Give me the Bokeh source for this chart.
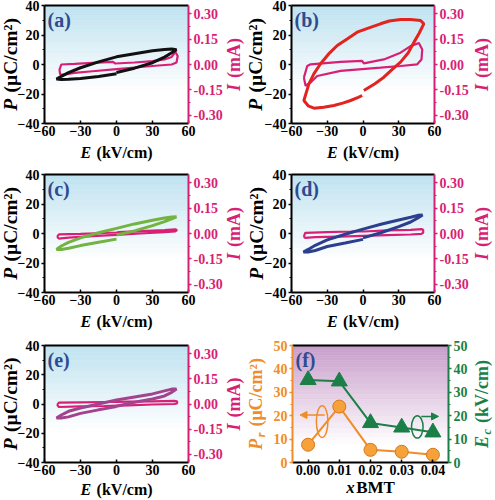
import numpy as np
from bokeh.plotting import figure
from bokeh.models import Range1d, LinearAxis, FixedTicker, NumeralTickFormatter, Label, Arrow, NormalHead
from bokeh.layouts import gridplot
from bokeh.embed import file_html
from bokeh.resources import INLINE

# ---------------- data ----------------
E_ticks = [-60, -30, 0, 30, 60]
P_ticks = [-40, -20, 0, 20, 40]
I_ticks = [-0.30, -0.15, 0.0, 0.15, 0.30]

# P-E loops (E in kV/cm, P in uC/cm2), traced from the start at E=0
E_a = [0, 15, 30, 40, 46, 50, 46, 40, 30, 15, 0, -15, -30, -40, -46, -50, -46, -40, -30, -15, 0]
P_a = [-5.4, -2.5, 1.2, 5.0, 8.0, 10.0, 10.5, 10.2, 9.3, 7.3, 5.2, 1.8, -2.2, -5.5, -8.0, -9.8, -10.2, -10.0, -9.5, -8.1, -6.3]

E_b = [0.7, 10, 17.5, 25, 31.5, 38, 42.7, 47, 51, 48.3, 40, 31.5, 22, 14.7, 5, -4.9, -13, -21.6, -29, -35.6, -41, -45.4, -49.6,
       -46, -41.2, -33, -24.4, -17, -10.4, -4, -0.7]
P_b = [-17.6, -13, -8.6, -3, 1.6, 8, 15, 21, 27.6, 29.8, 30.5, 30.5, 29.5, 27.6, 24.8, 21.9, 17.5, 12.9, 7, 0.5, -6, -13.1, -24.4,
       -28, -29.6, -29, -27.8, -26.2, -24.4, -22.3, -21]

E_c = [0, 15, 30, 40, 46, 50, 46, 40, 30, 15, 0, -15, -30, -40, -46, -50, -46, -40, -30, -15, 0]
P_c = [-1.0, 1.8, 5.3, 8.0, 10.0, 11.3, 11.2, 10.5, 9.0, 6.5, 3.5, 0.5, -3.0, -6.0, -8.5, -10.8, -10.8, -10.0, -8.2, -6.0, -3.8]

E_d = [0, 15, 30, 40, 46, 50, 46, 40, 30, 15, 0, -15, -30, -40, -46, -50, -46, -40, -30, -15, 0]
P_d = [-3.0, 0.5, 4.7, 7.8, 10.5, 12.6, 12.3, 11.0, 9.2, 6.3, 3.0, -0.5, -4.3, -8.0, -10.8, -12.6, -12.6, -11.5, -8.8, -6.5, -4.0]

E_e = [0, 15, 30, 40, 46, 50, 46, 40, 30, 15, 0, -15, -30, -40, -46, -50, -46, -40, -30, -15, 0]
P_e = [-1.5, 1.2, 3.4, 5.5, 8.0, 10.3, 10.2, 9.0, 6.9, 4.8, 2.7, 0.0, -2.7, -5.0, -7.5, -9.6, -9.6, -8.8, -6.4, -4.0, -1.8]

# I-E loops (E in kV/cm, I in mA)
EI_a = [-47, -47.5, -46, -35, -20, -3, -1, 15, 30, 40, 46, 49, 51, 50, 46, 35, 20, 0, -20, -35, -44, -47]
I_a = [-0.06, -0.03, 0.0, 0.004, 0.01, 0.016, 0.006, 0.012, 0.02, 0.03, 0.045, 0.075, 0.05, 0.012, 0.0, -0.006, -0.015, -0.027, -0.04, -0.05, -0.06, -0.06]

EI_b = [-49.6, -48.2, -44, -38.4, -18.8, 14.7, 31.5, 45.5, 49.1, 49.7, 46.9, 39.9, 31.5, 17.5, 0.7, -0.7, -18.8, -44, -46.8, -49.6]
I_b = [-0.078, -0.126, -0.107, -0.068, -0.038, -0.019, -0.009, 0.001, 0.03, 0.089, 0.128, 0.109, 0.07, 0.03, 0.007, 0.021, 0.015, 0.001, -0.009, -0.078]

EI_c = [-49.5, -48, -30, -10, 0, 2, 20, 40, 49, 50.5, 49, 40, 20, 0, -20, -40, -48, -49.5]
I_c = [-0.02, -0.005, -0.002, 0.003, 0.006, 0.008, 0.014, 0.02, 0.025, 0.02, 0.013, 0.008, 0.0, -0.008, -0.016, -0.024, -0.03, -0.02]

EI_d = [-49.7, -48.5, -30, -10, -1, 1, 20, 40, 49, 50.5, 50.5, 49, 40, 20, 0, -20, -40, -48.5, -49.7]
I_d = [-0.02, 0.004, 0.008, 0.012, 0.014, 0.012, 0.018, 0.022, 0.026, 0.022, 0.004, -0.002, -0.006, -0.01, -0.014, -0.018, -0.022, -0.026, -0.02]

EI_e = [-49.5, -48, -30, -10, 0, 10, 30, 48, 50.5, 50.5, 48, 30, 10, 0, -10, -30, -48, -49.5]
I_e = [-0.005, 0.008, 0.01, 0.012, 0.013, 0.014, 0.016, 0.019, 0.016, 0.003, 0.0, -0.003, -0.008, -0.01, -0.012, -0.014, -0.018, -0.005]

# panel (f)
xBMT = [0.00, 0.01, 0.02, 0.03, 0.04]
Pr = [7.6, 23.9, 5.4, 4.6, 3.3]
Ec = [35.3, 34.7, 16.9, 15.0, 12.9]
x_ticks_f = [0.00, 0.01, 0.02, 0.03, 0.04]
y_ticks_f = [0, 10, 20, 30, 40, 50]

# ---------------- style ----------------
FONT = "Liberation Serif"
PINK = "#d81f76"
LETTER = "#2e4b8f"
ORANGE = "#ef8d2a"
ORANGE_FILL = "#f5a23a"
GREEN = "#1b7f47"
BLUE_BG = (190, 226, 240)
MAUVE_BG = (200, 156, 202)

W_B = {' ': 250, '(': 333, ')': 333, '/': 278, 'P': 611, 'C': 722, 'E': 667, 'I': 389, 'k': 556, 'V': 722,
       'c': 444, 'm': 833, 'A': 722, 'B': 667, 'M': 944, 'T': 667, 'r': 444, 'x': 500, 'μ': 556, '²': 300}
W_BI = {'P': 611, 'E': 667, 'I': 389, 'r': 389, 'c': 444, 'x': 500}


def text_width(s, italic, size):
    tab = W_BI if italic else W_B
    return sum(tab.get(ch, 500) for ch in s) * size / 1000.0


def rich_label(p, x, y, pieces, vertical, x_off, y_off, color):
    gap = lambda it: 1.5 if it else 0.0
    total = sum(text_width(t, it, sz) + gap(it) for t, it, sz, sh in pieces)
    pos = -total / 2.0
    for t, it, sz, sh in pieces:
        lead = len(t) - len(t.lstrip(" "))
        pos += lead * W_B[' '] * sz / 1000.0
        t = t.lstrip(" ")
        style = "bold italic" if it else "bold"
        if vertical:
            xo, yo, ang = x_off - sh, y_off + pos, np.pi / 2
        else:
            xo, yo, ang = x_off + pos, y_off + sh, 0.0
        p.add_layout(Label(x=x, y=y, x_offset=xo, y_offset=yo, angle=ang, text=t,
                           text_font=FONT, text_font_style=style, text_font_size=f"{sz}px",
                           text_color=color, text_align="left", text_baseline="middle"))
        pos += text_width(t, it, sz) + gap(it)


def gradient(p, x0, x1, y0, y1, rgb, frac, n=48):
    edges = np.linspace(y1, y0, n + 1)
    cols = []
    for i in range(n):
        t = (i + 0.5) / n
        s = min(1.0, t / frac)
        c = tuple(int(round(v * (1 - s) + 255 * s)) for v in rgb)
        cols.append("#%02x%02x%02x" % c)
    p.quad(left=x0, right=x1, top=edges[:-1], bottom=edges[1:], fill_color=cols,
           line_color=cols, line_width=0.6, level="underlay")


def style_axis(ax, color, ticks, minor, loc, bounds, fmt=None, inward=False):
    ax.ticker = FixedTicker(ticks=ticks, minor_ticks=minor)
    ax.fixed_location = loc
    ax.bounds = bounds
    ax.axis_line_color = color
    ax.axis_line_width = 2
    ax.major_tick_line_color = color
    ax.major_tick_line_width = 1.5
    ax.major_tick_out = 0 if inward else 3
    ax.major_tick_in = 3 if inward else 0
    ax.minor_tick_line_color = color
    ax.minor_tick_out = 0 if inward else 2
    ax.minor_tick_in = 2 if inward else 0
    ax.major_label_text_font = FONT
    ax.major_label_text_font_style = "bold"
    ax.major_label_text_font_size = "14px"
    ax.major_label_text_color = color
    ax.major_label_standoff = 2
    ax.axis_label = None
    if fmt:
        ax.formatter = NumeralTickFormatter(format=fmt)


def ext_range(lo, hi, n_lo, n_hi, span_px):
    s = (hi - lo) / span_px
    return Range1d(lo - n_lo * s, hi + n_hi * s)


def base_fig(w, h, bl, br, bt, bb, xlim, ylim):
    # the frame fills the whole canvas; the plotting box is the data limits, borders are range margin
    xr = ext_range(xlim[0], xlim[1], bl, br, w - bl - br)
    yr = ext_range(ylim[0], ylim[1], bb, bt, h - bt - bb)
    p = figure(width=w, height=h, x_range=xr, y_range=yr, output_backend="svg", toolbar_location=None,
               min_border=0)
    p.xgrid.visible = False
    p.ygrid.visible = False
    p.outline_line_color = None
    p.background_fill_color = "white"
    p.border_fill_color = "white"
    return p


def loop_panel(letter, E_pe, P_pe, col_pe, E_i, I_i, w, row, bl, br, lab_l, lab_r, lab_b):
    h, bt, bb = row
    p = base_fig(w, h, bl, br, bt, bb, (-60, 60), (-40, 40))
    p.extra_y_ranges = {"I": ext_range(-0.35, 0.35, bb, bt, h - bt - bb)}
    gradient(p, -60, 60, -40, 40, BLUE_BG, 0.72)
    p.segment(x0=[-60], y0=[40], x1=[60], y1=[40], line_color="black", line_width=2)
    p.line(E_i, I_i, line_color=PINK, line_width=2.2, y_range_name="I")
    p.line(E_pe, P_pe, line_color=col_pe, line_width=3)
    style_axis(p.xaxis[0], "black", E_ticks, [], -40, (-60, 60), inward=True)
    style_axis(p.yaxis[0], "black", P_ticks, [-30, -10, 10, 30], -60, (-40, 40))
    ax_r = LinearAxis(y_range_name="I")
    style_axis(ax_r, PINK, I_ticks, [-0.225, -0.075, 0.075, 0.225], 60, (-0.35, 0.35), "0.00")
    p.add_layout(ax_r, "right")
    p.add_layout(Label(x=-60, y=40, x_offset=3, y_offset=-3, text=letter, text_font=FONT,
                       text_font_style="bold", text_font_size="20px", text_color=LETTER,
                       text_align="left", text_baseline="top"))
    rich_label(p, -60, 0, [("P", True, 19.5, 0), (" (μC/cm²)", False, 19.5, 0)], True, lab_l, 0, "black")
    rich_label(p, 60, 0, [("I", True, 18, 0), (" (mA)", False, 18, 0)], True, lab_r, 0, PINK)
    rich_label(p, 0, -40, [("E", True, 16, 0), (" (kV/cm)", False, 16, 0)], False, 0, -lab_b, "black")
    return p


# rows: (height, border_top, border_bottom)
R1 = (166, 5, 43)
R2 = (171, 8, 45)
R3 = (162, 8, 37)
WL, WR = 245, 250

pa = loop_panel("(a)", E_a, P_a, "#111111", EI_a, I_a, WL, R1, 44, 57, -34, 45, 29)
pb = loop_panel("(b)", E_b, P_b, "#e2231f", EI_b, I_b, WR, R1, 46, 61, -36, 47, 29)
pc = loop_panel("(c)", E_c, P_c, "#72b341", EI_c, I_c, WL, R2, 44, 57, -34, 45, 29)
pd = loop_panel("(d)", E_d, P_d, "#2b3f8e", EI_d, I_d, WR, R2, 46, 61, -35, 47, 29)
pe = loop_panel("(e)", E_e, P_e, "#a2438e", EI_e, I_e, WL, R3, 44, 57, -34, 45, 27)

# panel (f)
FX = (-0.005, 0.045)
FY = (0, 50)
h3, bt3, bb3 = R3
pf = base_fig(WR, h3, 47, 47, bt3, bb3, FX, FY)
pf.extra_y_ranges = {"Ec": ext_range(FY[0], FY[1], bb3, bt3, h3 - bt3 - bb3)}
gradient(pf, FX[0], FX[1], FY[0], FY[1], MAUVE_BG, 0.85)
pf.segment(x0=[FX[0]], y0=[FY[1]], x1=[FX[1]], y1=[FY[1]], line_color="black", line_width=2)
pf.line(xBMT, Pr, line_color=ORANGE, line_width=2)
pf.scatter(xBMT, Pr, size=13, fill_color=ORANGE_FILL, line_color="#d9771a", line_width=1)
pf.line(xBMT, Ec, line_color=GREEN, line_width=2, y_range_name="Ec")
pf.scatter(xBMT, Ec, marker="triangle", size=16, fill_color=GREEN, line_color=GREEN, y_range_name="Ec")
pf.ellipse(x=[0.0045], y=[17.5], width=0.0037, height=13.6, fill_color=None, line_color=ORANGE, line_width=1.5)
pf.add_layout(Arrow(end=NormalHead(size=7, fill_color=ORANGE, line_color=ORANGE), x_start=0.0053, y_start=20.3,
                    x_end=-0.0026, y_end=20.3, line_color=ORANGE, line_width=1.5))
pf.ellipse(x=[0.035], y=[15.2], width=0.0037, height=9.5, fill_color=None, line_color=GREEN, line_width=1.5)
pf.add_layout(Arrow(end=NormalHead(size=7, fill_color=GREEN, line_color=GREEN), x_start=0.0363, y_start=19.7,
                    x_end=0.0418, y_end=19.7, line_color=GREEN, line_width=1.5))
style_axis(pf.xaxis[0], "black", x_ticks_f, [], FY[0], FX, "0.00", inward=True)
style_axis(pf.yaxis[0], ORANGE, y_ticks_f, [5, 15, 25, 35, 45], FX[0], FY)
ax_rf = LinearAxis(y_range_name="Ec")
style_axis(ax_rf, GREEN, y_ticks_f, [5, 15, 25, 35, 45], FX[1], FY)
pf.add_layout(ax_rf, "right")
pf.add_layout(Label(x=FX[0], y=FY[1], x_offset=3, y_offset=-3, text="(f)", text_font=FONT,
                    text_font_style="bold", text_font_size="20px", text_color=LETTER,
                    text_align="left", text_baseline="top"))
rich_label(pf, FX[0], 25, [("P", True, 18, 0), ("r", True, 12, -5), (" (μC/cm²)", False, 18, 0)], True, -37, 0, ORANGE)
rich_label(pf, FX[1], 25, [("E", True, 18, 0), ("c", True, 12, -5), (" (kV/cm)", False, 18, 0)], True, 33, 0, GREEN)
rich_label(pf, 0.02, 0, [("x", True, 17, 0), ("BMT", False, 17, 0)], False, 0, -25, "black")

grid = gridplot([[pa, pb], [pc, pd], [pe, pf]], toolbar_location=None)

open("out.html", "w").write(file_html(grid, INLINE))
